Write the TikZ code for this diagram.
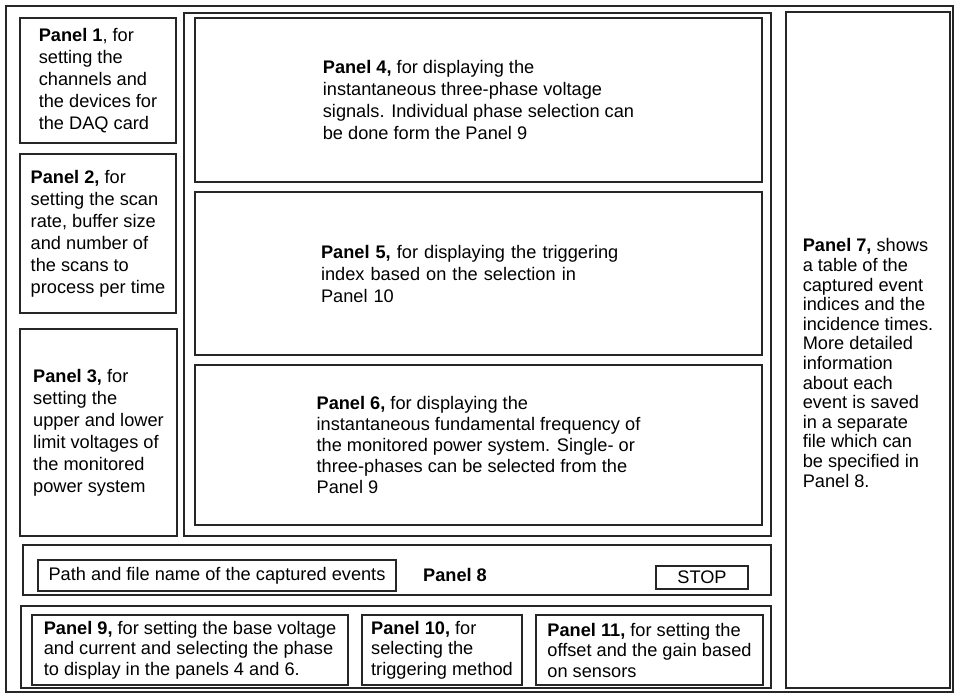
\documentclass[tikz,border=0pt]{standalone}
\usepackage{fontspec}
\setmainfont{Liberation Sans}
\usetikzlibrary{positioning}

\begin{document}
\begin{tikzpicture}[
  x=1pt, y=-1pt,
  font=\fontsize{18.2}{22}\selectfont,
  panel/.style={draw=black!85, line width=1.4pt, rectangle, outer sep=0pt, inner sep=0pt,
    align=left, anchor=north west, minimum width=#1},
  panel/.default=10pt,
  frame/.style={panel=#1},
  button/.style={panel=#1, align=center}
]
\useasboundingbox (0,0) rectangle (956,695);

% Outer frame of the front panel
\node[frame=947, minimum height=686] (front) at (6,6) {};

% Left column: DAQ card settings
\node[panel=156, minimum height=125] (p1) at (20,18) {
  \textbf{Panel 1}, for\\setting the\\channels and\\the devices for\\the DAQ card
};
\node[panel=156, minimum height=159, below=11pt of p1.south west, anchor=north west] (p2) {
  \textbf{Panel 2,} for\\setting the scan\\rate, buffer size\\and number of\\the scans to\\process per time
};
\node[panel=157, minimum height=207, below=16pt of p2.south west, anchor=north west] (p3) {
  \textbf{Panel 3,} for\\setting the\\upper and lower\\limit voltages of\\the monitored\\power system
};

% Middle column: display panels
\node[frame=587, minimum height=523] (disp) at (184,13) {};
\node[panel=567, minimum height=164] (p4) at (195,18) {
  \textbf{Panel 4,} for displaying the\\instantaneous three-phase voltage\\signals. Individual phase selection can\\be done form the Panel 9
};
\node[panel=567, minimum height=163, text width=315pt, below=10pt of p4.south west, anchor=north west] (p5) {
  \textbf{Panel 5,} for displaying the triggering\\index based on the selection in\\Panel 10
};
\node[panel=567, minimum height=160, below=10pt of p5.south west, anchor=north west,
  font=\fontsize{18.2}{21}\selectfont] (p6) {
  \textbf{Panel 6,} for displaying the\\instantaneous fundamental frequency of\\the monitored power system. Single- or\\three-phases can be selected from the\\Panel 9
};

% Right column: table of captured events
\node[panel=164, minimum height=676] (p7) at (786,12) {};
\node[align=left, font=\fontsize{18.2}{19.6}\selectfont] (p7txt) at ([yshift=-13pt]p7.center) {
  \textbf{Panel 7,} shows\\a table of the\\captured event\\indices and the\\incidence times.\\More detailed\\information\\about each\\event is saved\\in a separate\\file which can\\be specified in\\Panel 8.
};

% Panel 8: file path and stop button
\node[frame=748, minimum height=50] (p8) at (23,545) {};
\node[button=358, minimum height=31] (path) at (38,560) {Path and file name of the captured events};
\node[font=\fontsize{18.2}{22}\selectfont\bfseries] (p8lbl) at (455,575) {Panel 8};
\node[button=92, minimum height=23] (stop) at (656,566) {STOP};

% Bottom row: base values, triggering, sensors
\node[frame=750, minimum height=82] (setup) at (21,606) {};
\node[panel=316, minimum height=70, font=\fontsize{18.2}{20.5}\selectfont] (p9) at (32,615) {
  \textbf{Panel 9,} for setting the base voltage\\and current and selecting the phase\\to display in the panels 4 and 6.
};
\node[panel=160, minimum height=70, font=\fontsize{18.2}{20.5}\selectfont, right=14pt of p9.north east, anchor=north west] (p10) {
  \textbf{Panel 10,} for\\selecting the\\triggering method
};
\node[panel=227, minimum height=70, font=\fontsize{18.2}{20.5}\selectfont, right=14pt of p10.north east, anchor=north west] (p11) {
  \textbf{Panel 11,} for setting the\\offset and the gain based\\on sensors
};

\end{tikzpicture}
\end{document}
